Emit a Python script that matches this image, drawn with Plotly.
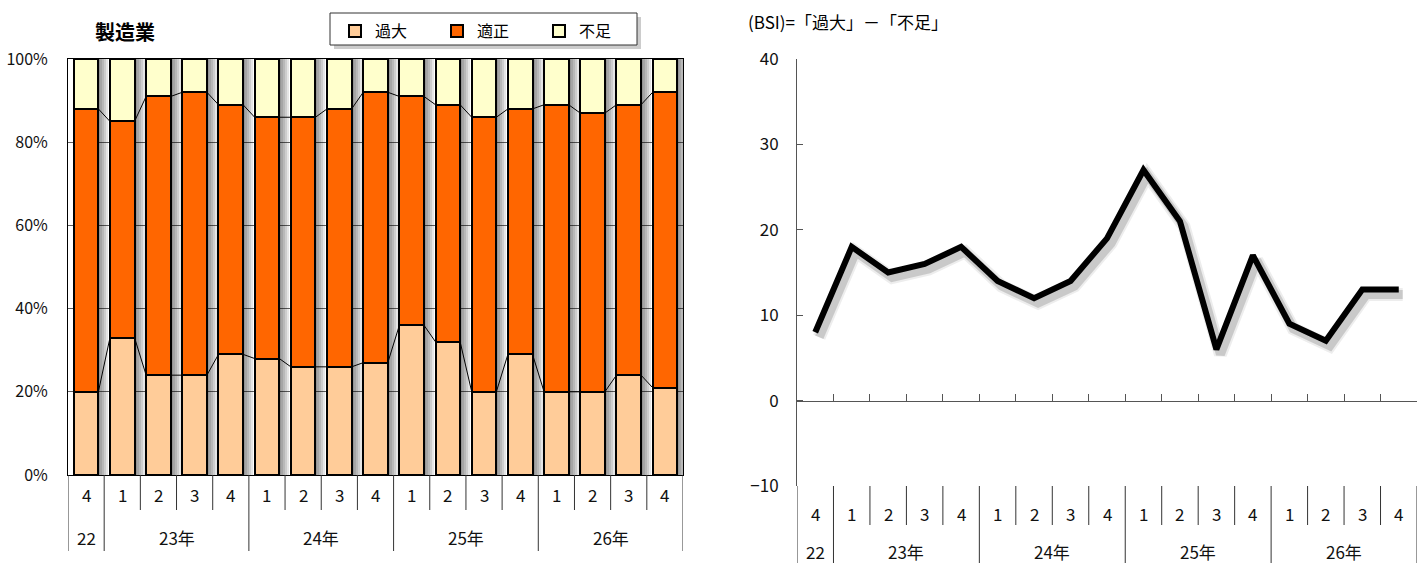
import plotly.graph_objects as go

# ---- data -------------------------------------------------------------
quarters = ["4", "1", "2", "3", "4", "1", "2", "3", "4",
            "1", "2", "3", "4", "1", "2", "3", "4"]
years = ["22", "23年", "24年", "25年", "26年"]
year_quarters = [1, 4, 4, 4, 4]          # quarters shown under each year

kadai = [20, 33, 24, 24, 29, 28, 26, 26, 27, 36, 32, 20, 29, 20, 20, 24, 21]    # 過大
tekisei = [68, 52, 67, 68, 60, 58, 60, 62, 65, 55, 57, 66, 59, 69, 67, 65, 71]  # 適正
fusoku = [12, 15, 9, 8, 11, 14, 14, 12, 8, 9, 11, 14, 12, 11, 13, 11, 8]       # 不足
bsi = [8, 18, 15, 16, 18, 14, 12, 14, 19, 27, 21, 6, 17, 9, 7, 13, 13]          # 過大−不足

pct_ticks = [0, 20, 40, 60, 80, 100]
bsi_ticks = [-10, 0, 10, 20, 30, 40]

# ---- page geometry (pixels) ------------------------------------------
W, H = 1417, 563
NARROW = "Liberation Sans Narrow, Arial Narrow, Noto Sans CJK JP, sans-serif"
CJK = "Noto Sans CJK JP, sans-serif"

def px(x):
    return x / W

def py(y):  # y measured from the top of the page
    return 1 - y / H

L_X0, L_X1, L_Y0, L_Y1 = 68, 683, 59, 475      # bar panel
R_X0, R_X1, R_Y0, R_Y1 = 797, 1417, 59, 486    # line panel
n = len(quarters)
xs = list(range(n))
BAR_W = 0.68

fig = go.Figure()

# ---- left: stacked 100% bars -----------------------------------------
totals = [a + b + c for a, b, c in zip(kadai, tekisei, fusoku)]
unit_px = (L_X1 - L_X0) / n
for shift_px in [2, 4, 6, 8, 10]:
    fig.add_trace(go.Bar(
        x=xs, y=totals, base=0, width=BAR_W, offset=-BAR_W / 2 + shift_px / unit_px,
        marker=dict(color="rgba(0,0,0,0.1)", line=dict(width=0)),
        showlegend=False, hoverinfo="skip", xaxis="x", yaxis="y"))

base2 = kadai
base3 = [a + b for a, b in zip(kadai, tekisei)]
series = [("過大", kadai, [0] * n, "#FFCC99"),
          ("適正", tekisei, base2, "#FF6600"),
          ("不足", fusoku, base3, "#FFFFCC")]
for name, vals, base, color in series:
    fig.add_trace(go.Bar(
        name=name, x=xs, y=vals, base=base, width=BAR_W, offset=-BAR_W / 2,
        marker=dict(color=color, line=dict(color="black", width=2)),
        xaxis="x", yaxis="y"))

# series lines joining the stacked segments of neighbouring bars
for level in (base2, base3):
    lx, ly = [], []
    for i in range(n - 1):
        lx += [i + BAR_W / 2, i + 1 - BAR_W / 2, None]
        ly += [level[i], level[i + 1], None]
    fig.add_trace(go.Scatter(x=lx, y=ly, mode="lines",
                             line=dict(color="black", width=1),
                             showlegend=False, hoverinfo="skip",
                             xaxis="x", yaxis="y"))

# ---- right: BSI line with a soft drop shadow --------------------------
r_unit = (R_X1 - R_X0) / n
SDX, SDY = 4, 5
for width, alpha in [(13, 0.07), (9, 0.15)]:
    fig.add_trace(go.Scatter(x=xs, y=bsi, mode="lines",
                             line=dict(color=f"rgba(0,0,0,{alpha})", width=width),
                             showlegend=False, hoverinfo="skip",
                             xaxis="x2", yaxis="y2"))
fig.add_trace(go.Scatter(x=xs, y=bsi, mode="lines",
                         line=dict(color="black", width=6),
                         showlegend=False, xaxis="x3", yaxis="y3"))

zero_pos = py(R_Y1) + (0 - (-10)) / 50 * (py(R_Y0) - py(R_Y1))

fig.update_layout(
    width=W, height=H, margin=dict(l=0, r=0, t=0, b=0, autoexpand=False),
    paper_bgcolor="white", plot_bgcolor="rgba(0,0,0,0)",
    barmode="overlay", bargap=0,
    font=dict(family=NARROW, size=15, color="#111"),
    xaxis=dict(domain=[px(L_X0), px(L_X1)], range=[-0.5, n - 0.5],
               showline=True, mirror=True, linecolor="black", linewidth=1,
               showgrid=False, zeroline=False, showticklabels=False, ticks=""),
    yaxis=dict(domain=[py(L_Y1), py(L_Y0)], range=[0, 100],
               tickvals=pct_ticks, ticktext=[f"{v}%" for v in pct_ticks],
               showline=True, mirror=True, linecolor="black", linewidth=1,
               showgrid=True, gridcolor="#606060", gridwidth=1,
               zeroline=False, ticks="", ticklabelstandoff=16,
               tickfont=dict(size=16)),
    xaxis2=dict(domain=[px(R_X0 + SDX), 1.0],
                range=[-0.5, -0.5 + (R_X1 - R_X0 - SDX) / r_unit],
                visible=False, anchor="y2"),
    yaxis2=dict(domain=[py(R_Y1 + SDY), py(R_Y0 + SDY)], range=[-10, 40],
                visible=False, anchor="x2"),
    xaxis3=dict(domain=[px(R_X0), px(R_X1)], range=[-0.5, n - 0.5],
                anchor="free", position=zero_pos,
                showline=True, linecolor="#555", linewidth=1,
                ticks="inside", tickvals=[i + 0.5 for i in range(n - 1)],
                ticklen=7, tickcolor="#555", showticklabels=False,
                showgrid=False, zeroline=False),
    yaxis3=dict(domain=[py(R_Y1), py(R_Y0)], range=[-10, 40],
                tickvals=bsi_ticks, anchor="x3",
                showline=True, linecolor="#555", linewidth=1,
                ticks="inside", ticklen=6, tickcolor="#555",
                ticklabelstandoff=14, showgrid=False, zeroline=False,
                tickfont=dict(size=17)),
    legend=dict(orientation="h", x=px(335), xanchor="left",
                y=py(14), yanchor="top", bgcolor="rgba(0,0,0,0)",
                borderwidth=0,
                font=dict(family=CJK, size=16, color="black"),
                entrywidth=57, entrywidthmode="pixels",
                itemwidth=30, traceorder="normal"),
)

shapes = []
# legend frame with its drop shadow
shapes.append(dict(type="rect", xref="paper", yref="paper",
                   x0=px(334), x1=px(641), y0=py(49), y1=py(17),
                   fillcolor="rgba(0,0,0,0.2)", line=dict(width=0), layer="below"))
shapes.append(dict(type="rect", xref="paper", yref="paper",
                   x0=px(330), x1=px(637), y0=py(45), y1=py(13),
                   fillcolor="white", line=dict(color="#333", width=1), layer="below"))

# category separators below each panel
def separators(xref, top_px, q_bottom, y_bottom):
    out = []
    bounds = [i - 0.5 for i in range(n + 1)]
    year_bounds = [-0.5]
    acc = -0.5
    for q in year_quarters:
        acc += q
        year_bounds.append(acc)
    for b in bounds:
        bottom = y_bottom if b in year_bounds else q_bottom
        out.append(dict(type="line", xref=xref, yref="paper",
                        x0=b, x1=b, y0=py(top_px), y1=py(bottom),
                        line=dict(color="#333", width=1)))
    return out

shapes += separators("x", L_Y1, 510, 551)
shapes += separators("x3", R_Y1, 525, 563)
fig.update_layout(shapes=shapes)

# category labels
def labels(xref, q_y, y_y):
    out = []
    for i, q in enumerate(quarters):
        out.append(dict(x=i, y=py(q_y), xref=xref, yref="paper", text=q,
                        xanchor="center", yanchor="middle",
                        showarrow=False, font=dict(size=17, family=NARROW)))
    start = 0
    for name, q in zip(years, year_quarters):
        centre = start + (q - 1) / 2
        out.append(dict(x=centre, y=py(y_y), xref=xref, yref="paper", text=name,
                        xanchor="center", yanchor="middle",
                        showarrow=False, font=dict(size=17, family=NARROW)))
        start += q
    return out

ann = labels("x", 494, 537) + labels("x3", 513, 551)
ann.append(dict(x=px(125), y=py(31), xref="paper", yref="paper",
                xanchor="center", yanchor="middle",
                text="<b>製造業</b>", showarrow=False,
                font=dict(family=CJK, size=20, color="black")))
ann.append(dict(x=px(746), y=py(22), xref="paper", yref="paper",
                xanchor="left", yanchor="middle",
                text="(BSI)=「過大」－「不足」", showarrow=False,
                font=dict(family=NARROW, size=17, color="black")))
fig.update_layout(annotations=ann)

fig.write_html("out.html")
